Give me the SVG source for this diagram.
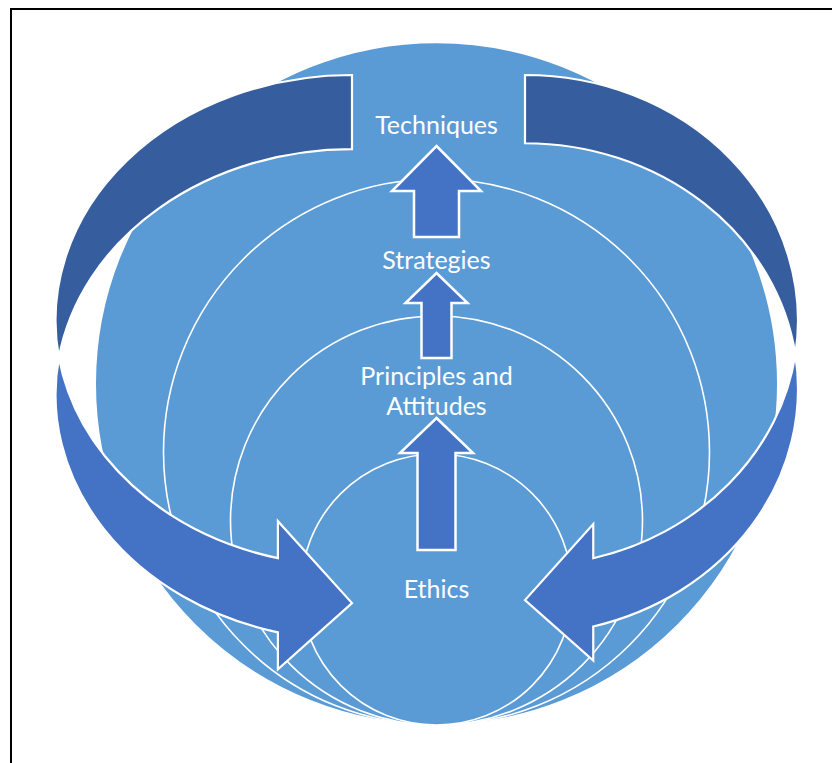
<svg xmlns="http://www.w3.org/2000/svg" width="832" height="763" viewBox="0 0 832 763">
  <style>
    .ring { fill: #5B9BD5; stroke: #FFFFFF; stroke-width: 1.6; }
    .label { font-family: "Lato", "Open Sans", "Liberation Sans", sans-serif; font-size: 25px; fill: #FFFFFF; text-anchor: middle; }
    .up { fill: #4472C4; stroke: #FFFFFF; stroke-width: 2.5; stroke-linejoin: miter; }
    .band-back { fill: #365E9E; stroke: #FFFFFF; stroke-width: 2.2; stroke-linejoin: miter; }
    .band-front { fill: #4472C4; stroke: #FFFFFF; stroke-width: 2.2; stroke-linejoin: miter; }
  </style>

  <rect x="0" y="0" width="832" height="763" fill="#FFFFFF"/>
  <!-- page frame -->
  <rect x="11" y="9" width="840" height="780" fill="none" stroke="#000000" stroke-width="2"/>

  <!-- nested target levels, outermost first -->
  <g id="techniques">
    <circle class="ring" cx="436.5" cy="383.7" r="341.3" stroke="none"/>
    <text class="label" x="436.5" y="134">Techniques</text>
  </g>
  <g id="strategies">
    <circle class="ring" cx="436.5" cy="452" r="273"/>
    <text class="label" x="436.5" y="269">Strategies</text>
  </g>
  <g id="principles-attitudes">
    <ellipse class="ring" cx="436.5" cy="520.5" rx="206" ry="204.5"/>
    <text class="label" x="436.5" y="385">Principles and</text>
    <text class="label" x="436.5" y="415">Attitudes</text>
  </g>
  <g id="ethics">
    <circle class="ring" cx="436.5" cy="589.5" r="135.5"/>
    <text class="label" x="436.5" y="598">Ethics</text>
  </g>

  <g id="connectors">
    <!-- left curved arrow: back half then front half with head -->
    <path class="band-back" d="M352,75 A296.5,245.5 0 0 0 58.9,357.55 A296.5,245.5 0 0 1 352,149.1 Z"/>
    <path class="band-front" d="M58.9,357.55 A296.5,245.5 0 0 0 277.9,632.3 L277.9,669.4 L352,603.05 L277.9,521.2 L277.9,558.2 A296.5,245.5 0 0 1 58.9,357.55 Z"/>

    <!-- right curved arrow, mirrored -->
    <path class="band-back" d="M525,75 A273,245.5 0 0 1 795.35,354.6 A273,245.5 0 0 0 525,143.25 Z"/>
    <path class="band-front" d="M795.35,354.6 A273,245.5 0 0 1 593.25,626.45 L593.25,660.6 L525,600.1 L593.25,524.1 L593.25,558.2 A273,245.5 0 0 0 795.35,354.6 Z"/>

    <!-- upward arrows between levels -->
    <polygon class="up" points="436.5,146 481,191 459,191 459,237 414,237 414,191 392,191"/>
    <polygon class="up" points="436.5,273 467.5,303 451.5,303 451.5,358 421.5,358 421.5,303 405.5,303"/>
    <polygon class="up" points="436.5,418 473,453 455.5,453 455.5,550 417.5,550 417.5,453 400,453"/>
  </g>
</svg>
